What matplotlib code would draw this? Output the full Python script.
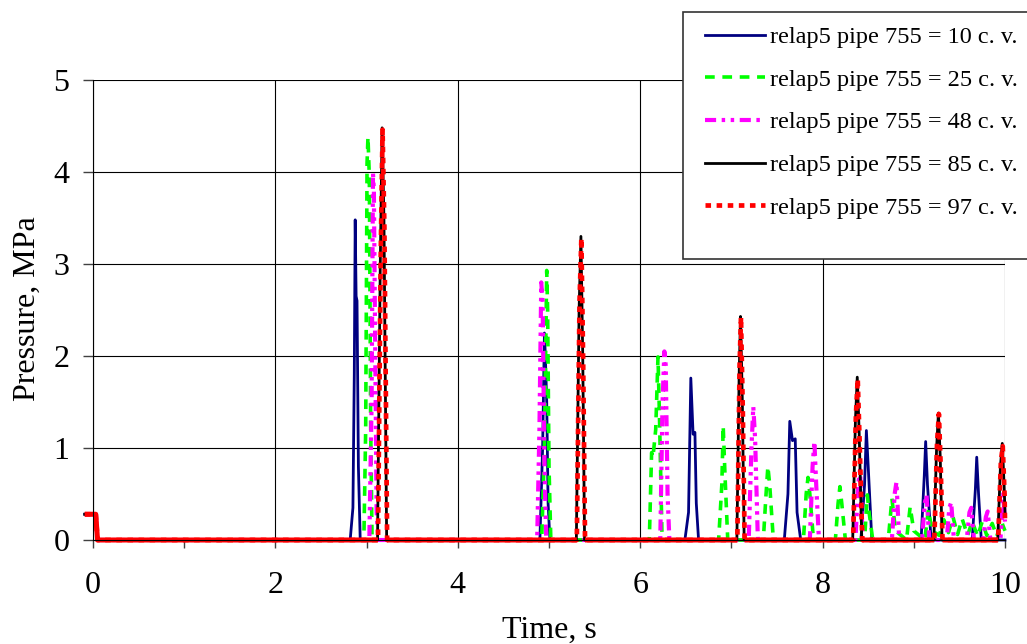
import numpy as np
import matplotlib.pyplot as plt
from matplotlib.patches import Rectangle
from matplotlib.ticker import MultipleLocator

plt.rcParams['font.family'] = ['Liberation Serif', 'DejaVu Serif']
plt.rcParams['lines.scale_dashes'] = False

# === Data ===
labels = ["relap5 pipe 755 = 10 c. v.", "relap5 pipe 755 = 25 c. v.",
          "relap5 pipe 755 = 48 c. v.", "relap5 pipe 755 = 85 c. v.",
          "relap5 pipe 755 = 97 c. v."]

t10 = [-0.09, 0.03, 0.05, 2.82, 2.85, 2.865, 2.875, 2.885, 2.895, 2.91, 2.93,
       4.90, 4.93, 4.95, 4.96, 4.975, 4.99, 5.01,
       6.49, 6.53, 6.555, 6.58, 6.60, 6.615, 6.64,
       7.58, 7.62, 7.64, 7.67, 7.70, 7.72, 7.76,
       8.42, 8.46, 8.48, 8.50, 8.54,
       9.08, 9.115, 9.13, 9.15, 9.19,
       9.64, 9.675, 9.69, 9.71, 9.74, 10.0]
p10 = [0.28, 0.28, 0, 0, 0.35, 1.8, 3.48, 2.65, 2.6, 0.8, 0,
       0, 1.0, 2.25, 2.0, 1.5, 0.4, 0,
       0, 0.3, 1.76, 1.15, 1.17, 0.4, 0,
       0, 0.5, 1.29, 1.08, 1.1, 0.3, 0,
       0, 0.6, 1.19, 0.8, 0,
       0, 0.7, 1.07, 0.6, 0,
       0, 0.55, 0.9, 0.5, 0, 0]

t25 = [-0.09, 0.03, 0.05, 2.97, 2.99, 3.005, 3.015, 3.03, 3.045, 3.06,
       4.92, 4.95, 4.975, 4.985, 5.0, 5.02,
       6.10, 6.125, 6.14, 6.17, 6.195, 6.21, 6.24,
       6.86, 6.895, 6.91, 6.93, 6.96,
       7.35, 7.38, 7.40, 7.42, 7.46,
       7.79, 7.82, 7.84, 7.86, 7.90,
       8.14, 8.17, 8.19, 8.21, 8.25,
       8.46, 8.49, 8.51, 8.55,
       8.72, 8.76, 8.80, 8.92, 8.96, 9.00, 9.12, 9.16, 9.20,
       9.28, 9.33, 9.38, 9.43, 9.48, 9.53, 9.59, 9.64, 9.70, 9.75,
       9.80, 9.86, 9.91, 9.96, 10.0]
p25 = [0.28, 0.28, 0, 0, 1.2, 4.1, 4.38, 3.95, 1.2, 0,
       0, 1.0, 2.93, 2.5, 0.8, 0,
       0, 0.95, 0.9, 1.2, 1.99, 1.4, 0,
       0, 0.6, 1.24, 0.7, 0,
       0, 0.5, 0.8, 0.6, 0,
       0, 0.5, 0.68, 0.5, 0,
       0, 0.4, 0.58, 0.4, 0,
       0, 0.49, 0.3, 0,
       0, 0.45, 0.1, 0, 0.36, 0.1, 0, 0.33, 0.1,
       0.05, 0.22, 0.08, 0.25, 0.06, 0.23, 0.05, 0.2, 0.04, 0.2,
       0.05, 0.18, 0.04, 0.2, 0.1]

t48 = [-0.09, 0.03, 0.05, 3.03, 3.055, 3.07, 3.08, 3.095, 3.11, 3.13,
       4.87, 4.895, 4.915, 4.93, 4.95, 4.97,
       6.22, 6.245, 6.265, 6.28, 6.30, 6.32,
       7.19, 7.22, 7.24, 7.26, 7.29,
       7.86, 7.89, 7.91, 7.93, 7.96,
       8.36, 8.39, 8.41, 8.44,
       8.76, 8.79, 8.81, 8.84,
       9.09, 9.12, 9.14, 9.17,
       9.36, 9.39, 9.41, 9.44,
       9.58, 9.61, 9.63, 9.66,
       9.76, 9.79, 9.81, 9.84,
       9.95, 9.98, 10.0]
p48 = [0.28, 0.28, 0, 0, 1.5, 3.99, 3.8, 2.0, 0.3, 0,
       0, 1.2, 2.8, 2.6, 0.8, 0,
       0, 1.5, 2.05, 1.9, 0.5, 0,
       0, 1.0, 1.45, 1.1, 0,
       0, 0.8, 1.07, 0.6, 0,
       0, 0.6, 0.76, 0,
       0, 0.5, 0.63, 0,
       0, 0.4, 0.49, 0,
       0, 0.35, 0.41, 0,
       0, 0.3, 0.35, 0,
       0, 0.25, 0.31, 0,
       0, 0.5, 0.2]

t85 = [-0.09, 0.03, 0.05, 3.12, 3.15, 3.17, 3.19, 3.22,
       5.30, 5.33, 5.35, 5.37, 5.39,
       7.06, 7.085, 7.10, 7.12, 7.14,
       8.33, 8.36, 8.38, 8.40, 8.43,
       9.22, 9.25, 9.27, 9.29, 9.31,
       9.92, 9.95, 9.97, 9.99, 10.0]
p85 = [0.28, 0.28, 0, 0, 3.0, 4.48, 3.5, 0,
       0, 2.5, 3.3, 2.0, 0,
       0, 1.8, 2.43, 1.5, 0,
       0, 1.3, 1.77, 1.2, 0,
       0, 1.0, 1.38, 0.9, 0,
       0, 0.8, 1.05, 0.6, 0.3]

t97 = [-0.09, 0.03, 0.05, 3.125, 3.155, 3.175, 3.195, 3.225,
       5.305, 5.335, 5.355, 5.375, 5.395,
       7.065, 7.09, 7.105, 7.125, 7.145,
       8.335, 8.365, 8.385, 8.405, 8.435,
       9.225, 9.255, 9.275, 9.295, 9.315,
       9.925, 9.955, 9.975, 9.995, 10.0]
p97 = [0.28, 0.28, 0, 0, 3.1, 4.46, 3.4, 0,
       0, 2.6, 3.28, 1.9, 0,
       0, 1.9, 2.42, 1.4, 0,
       0, 1.35, 1.75, 1.1, 0,
       0, 1.05, 1.37, 0.8, 0,
       0, 0.85, 1.02, 0.5, 0.2]

# === Plot ===
fig = plt.figure(figsize=(10.27, 6.44), dpi=100)
ax = fig.add_axes([93 / 1027, 1 - 540 / 644, 912 / 1027, 460 / 644])

lines = []
lines += ax.plot(t10, p10, color='#000080', lw=2.0, clip_on=False)
lines += ax.plot(t25, p25, color='#00ff00', lw=2.6, dashes=(7, 5.5), clip_on=False)
lines += ax.plot(t48, p48, color='#ff00ff', lw=3.0, dashes=(8, 4, 2.5, 4, 2.5, 4), clip_on=False)
lines += ax.plot(t85, p85, color='black', lw=2.0, clip_on=False)
lines += ax.plot(t97, p97, color='#ff0000', lw=3.4, dashes=(4, 4), clip_on=False)

# flat stretches of the red series look solid in the original (many short segments)
p97_arr = np.array(p97, dtype=float)
flat = p97_arr.copy()
keep = np.zeros(len(p97_arr), dtype=bool)
keep[:-1] |= p97_arr[:-1] == p97_arr[1:]
keep[1:] |= p97_arr[1:] == p97_arr[:-1]
flat[~keep] = np.nan
ax.plot(t97, flat, color='#ff0000', lw=3.6, solid_capstyle='butt', clip_on=False)

ax.set_xlim(0, 10)
ax.set_ylim(0, 5)
ax.xaxis.set_major_locator(MultipleLocator(2))
ax.xaxis.set_minor_locator(MultipleLocator(1))
ax.yaxis.set_major_locator(MultipleLocator(1))
ax.tick_params(axis='x', which='both', direction='out', length=6, width=1,
               color='#404040', labelsize=23, pad=16)
ax.tick_params(axis='y', direction='out', length=7, width=1,
               color='#404040', labelsize=23, pad=10)
ax.grid(True, which='major', color='black', lw=0.8)
ax.set_axisbelow(True)
ax.get_xgridlines()[-1].set_color('#808080')
for s in ['top', 'right']:
    ax.spines[s].set_visible(False)
ax.spines['left'].set_color('black')
ax.spines['bottom'].set_color('black')

fig.text(27 / 1027, 1 - 309 / 644, "Pressure, MPa", rotation=90,
         ha='center', va='center', fontsize=23)
fig.text(549 / 1027, 1 - 638 / 644, "Time, s", ha='center', va='baseline',
         fontsize=23)

# legend box, partly cut by the right edge as in the original
fig.add_artist(Rectangle((683 / 1027, 1 - 259 / 644), 400 / 1027, 247 / 644,
                         transform=fig.transFigure, facecolor='white',
                         edgecolor='#333333', lw=1.2, zorder=4))
fig.legend(lines, labels, loc='upper left', bbox_to_anchor=(705 / 1027, 1 - 26 / 644),
           frameon=False, borderpad=0, borderaxespad=0, fontsize=17.5,
           handlelength=2.46, handletextpad=0.2, labelspacing=0.85)

plt.savefig("out.png", dpi=100)
